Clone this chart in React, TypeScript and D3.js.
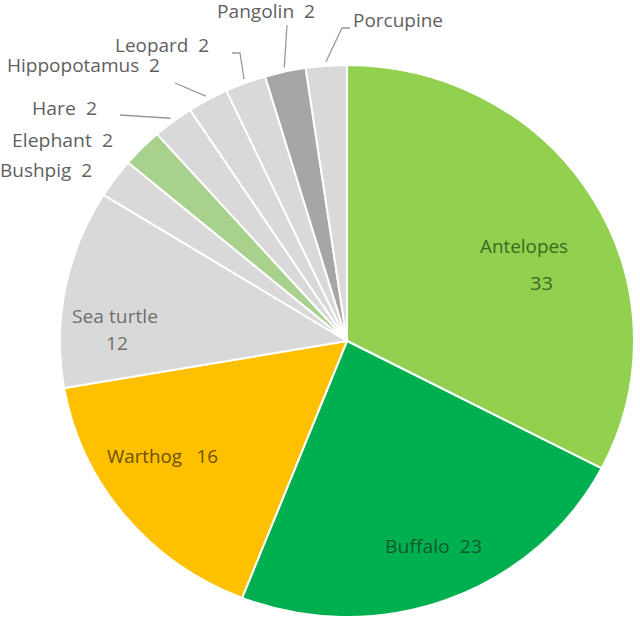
import React from "react";
import * as d3 from "d3";

const categories = ["Antelopes", "Buffalo", "Warthog", "Sea turtle", "Bushpig", "Elephant", "Hare", "Hippopotamus", "Leopard", "Pangolin", "Porcupine"];
// shares (%); labels show rounded values
const values = [32.6, 23.3, 16.3, 11.6, 2.3, 2.3, 2.3, 2.3, 2.3, 2.3, 2.3];
const showValue = [true, true, true, true, true, true, true, true, true, true, false];
const valueOnSecondLine = [true, false, false, true, false, false, false, false, false, false, false];

const sliceColors = ["#92D050", "#00B050", "#FFC000", "#D9D9D9", "#D9D9D9", "#A9D18E", "#D9D9D9", "#D9D9D9", "#D9D9D9", "#A6A6A6", "#D9D9D9"];
const textColors = ["#3d6a1f", "#135a2b", "#6b5000", "#6f6f6f", "#5f5f5f", "#5f5f5f", "#5f5f5f", "#5f5f5f", "#5f5f5f", "#5f5f5f", "#5f5f5f"];

// layout (label positions: x = left edge, y = baseline, w = text width)
const labelLayout: Record<string, { x: number; y: number; w: number; x2?: number; y2?: number; w2?: number; leader?: [number, number][] }> = {
  Antelopes: { x: 480, y: 253, w: 88, x2: 530, y2: 290, w2: 23 },
  Buffalo: { x: 385, y: 553, w: 97 },
  Warthog: { x: 107, y: 463, w: 111 },
  "Sea turtle": { x: 72, y: 323, w: 86, x2: 106, y2: 350, w2: 22 },
  Bushpig: { x: 0, y: 177, w: 92 },
  Elephant: { x: 12, y: 147, w: 101 },
  Hare: { x: 32, y: 115, w: 65, leader: [[120, 115]] },
  Hippopotamus: { x: 7, y: 72, w: 153, leader: [[175, 83]] },
  Leopard: { x: 115, y: 52, w: 94, leader: [[240, 53], [232, 53]] },
  Pangolin: { x: 217, y: 18, w: 98, leader: [[287, 25]] },
  Porcupine: { x: 353, y: 27, w: 90, leader: [[342, 28], [350, 28]] },
};

const W = 640;
const H = 619;
const cx = 347;
const cy = 341;
const R = 276;
const sx = 287 / 276;

export default function App() {
  const pie = d3.pie<number>().sort(null).startAngle(0).endAngle(2 * Math.PI);
  const arcs = pie(values);
  const arc = d3.arc<d3.PieArcDatum<number>>().innerRadius(0).outerRadius(R);
  const font = "'Open Sans', 'Noto Sans', sans-serif";

  return (
    <div style={{ position: "absolute", left: 0, top: 0 }}>
      <svg width={W} height={H} style={{ display: "block", background: "#fff" }}>
        <g transform={`translate(${cx},${cy}) scale(${sx},1)`}>
          {arcs.map((a, i) => (
            <path key={categories[i]} d={arc(a) || ""} fill={sliceColors[i]} stroke="#fff" strokeWidth={2} vectorEffect="non-scaling-stroke" />
          ))}
        </g>
        {arcs.map((a, i) => {
          const lay = labelLayout[categories[i]];
          if (!lay || !lay.leader) return null;
          const mid = (a.startAngle + a.endAngle) / 2;
          const r0 = R + 4;
          const start: [number, number] = [cx + Math.sin(mid) * r0 * sx, cy - Math.cos(mid) * r0];
          const pts = [start, ...lay.leader];
          return (
            <polyline key={"l" + i} points={pts.map((p) => p.join(",")).join(" ")} fill="none" stroke="#999" strokeWidth={1.3} />
          );
        })}
        {categories.map((c, i) => {
          const lay = labelLayout[c];
          const v = String(Math.round(values[i]));
          const sep = c === "Warthog" ? "   " : "  ";
          const line1 = showValue[i] && !valueOnSecondLine[i] ? c + sep + v : c;
          return (
            <g key={"t" + i} fontFamily={font} fontSize={18} fill={textColors[i]}>
              <text x={lay.x} y={lay.y} xmlSpace="preserve" textLength={lay.w} lengthAdjust="spacingAndGlyphs">{line1}</text>
              {showValue[i] && valueOnSecondLine[i] && lay.x2 !== undefined ? (
                <text x={lay.x2} y={lay.y2} textLength={lay.w2} lengthAdjust="spacingAndGlyphs">{v}</text>
              ) : null}
            </g>
          );
        })}
      </svg>
    </div>
  );
}
